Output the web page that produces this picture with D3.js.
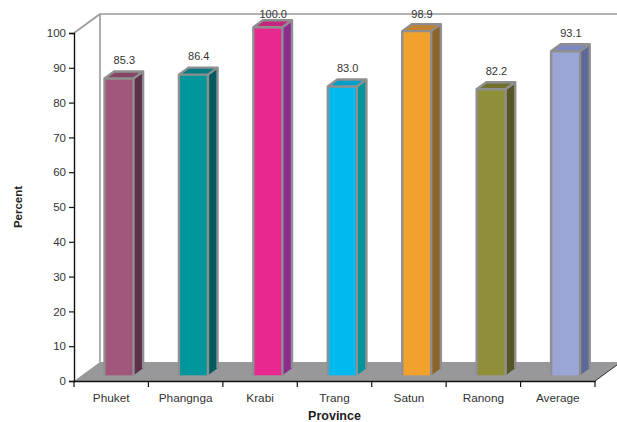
<!DOCTYPE html>
<html>
<head>
<meta charset="utf-8">
<script src="https://cdn.jsdelivr.net/npm/d3@7"></script>
<style>
  html, body { margin: 0; padding: 0; background: #fff; }
  svg { display: block; font-family: Arial, "Liberation Sans", sans-serif; }
</style>
</head>
<body>
<svg id="chart" width="617" height="422"></svg>
<script>
// Provinces and their percentages
const provinces = ["Phuket", "Phangnga", "Krabi", "Trang", "Satun", "Ranong", "Average"];
const percents = [85.3, 86.4, 100.0, 83.0, 98.9, 82.2, 93.1];
const yTicks = [0, 10, 20, 30, 40, 50, 60, 70, 80, 90, 100];

// Face colours for each bar: front, top, side
const frontColors = ["#a3567b", "#00969b", "#e8288e", "#00b9ef", "#f0a22d", "#8f8e39", "#9ba6d6"];
const topColors   = ["#874466", "#007b80", "#c3267f", "#009ec9", "#c0822e", "#72712c", "#7d89c0"];
const sideColors  = ["#5f3049", "#005c60", "#8c2d8d", "#00959b", "#8c652a", "#565727", "#5b6898"];

const svg = d3.select("#chart");

const plotLeft = 74, plotRight = 595, plotBottom = 381, plotTop = 33;
const DX = 26, DY = 19;           // depth of the 3D floor / walls
const f1 = 0.30, f2 = 0.67;       // bar front/back position within the depth
const halfW = 14.5;

const x = d3.scaleBand().domain(provinces).range([plotLeft, plotRight]).padding(0);
const y = d3.scaleLinear().domain([0, 100]).range([plotBottom, plotTop]);

const wallColor = "#9a9a9a";
const pts = a => a.map(p => p.join(",")).join(" ");

// Floor
svg.append("polygon")
  .attr("points", pts([
    [x.range()[0], y(0)], [x.range()[1], y(0)],
    [x.range()[1] + DX, y(0) - DY], [x.range()[0] + DX, y(0) - DY]
  ]))
  .attr("fill", "#98989a");

// Dark edge along the right side of the floor
svg.append("line")
  .attr("x1", x.range()[1]).attr("y1", y(0))
  .attr("x2", x.range()[1] + DX).attr("y2", y(0) - DY)
  .attr("stroke", "#333").attr("stroke-width", 1);

// Walls
const walls = svg.append("g").attr("stroke", wallColor).attr("stroke-width", 1.6).attr("fill", "none");
walls.append("line")
  .attr("x1", plotLeft + DX).attr("y1", y(0) - DY)
  .attr("x2", plotLeft + DX).attr("y2", y(100) - DY);
walls.append("line")
  .attr("x1", plotLeft + DX).attr("y1", y(100) - DY)
  .attr("x2", 640).attr("y2", y(100) - DY);
walls.append("line")
  .attr("x1", plotLeft).attr("y1", y(100))
  .attr("x2", plotLeft + DX).attr("y2", y(100) - DY);

// Bars
const data = provinces.map((p, i) => ({ p, v: percents[i], i }));
const fx = DX * f1, fy = DY * f1;
const ddx = DX * (f2 - f1), ddy = DY * (f2 - f1);

const bars = svg.append("g").selectAll("g").data(data).join("g");
bars.each(function(d) {
  const g = d3.select(this);
  const cx = x(d.p) + x.bandwidth() / 2 + fx;
  const L = cx - halfW, R = cx + halfW;
  const T = y(d.v) - fy, B = y(0) - fy;
  g.append("polygon")
    .attr("points", pts([[R, T], [R + ddx, T - ddy], [R + ddx, B - ddy], [R, B]]))
    .attr("fill", sideColors[d.i]);
  g.append("polygon")
    .attr("points", pts([[L, T], [R, T], [R + ddx, T - ddy], [L + ddx, T - ddy]]))
    .attr("fill", topColors[d.i]);
  g.append("rect")
    .attr("x", L).attr("y", T).attr("width", R - L).attr("height", B - T)
    .attr("fill", frontColors[d.i]);
  // grey outline on the visible edges
  g.append("path")
    .attr("d", `M${L},${B} L${L},${T} L${R},${T} L${R},${B} M${L},${T} L${L + ddx},${T - ddy} L${R + ddx},${T - ddy} L${R},${T} M${R + ddx},${T - ddy} L${R + ddx},${B - ddy}`)
    .attr("fill", "none")
    .attr("stroke", "#8f8f8f").attr("stroke-width", 2.4)
    .attr("stroke-linejoin", "round");
});

// Value labels
svg.append("g").selectAll("text").data(data).join("text")
  .attr("x", d => x(d.p) + x.bandwidth() / 2 + fx + ddx / 2 + 0.5)
  .attr("y", d => Math.max(y(d.v) - 20, 17.5))
  .attr("text-anchor", "middle")
  .attr("font-size", "11px")
  .attr("fill", "#333")
  .text(d => d.v.toFixed(1));

// Y axis
const yAxis = svg.append("g")
  .attr("transform", `translate(${plotLeft},0)`)
  .call(d3.axisLeft(y).tickValues(yTicks).tickSize(5).tickPadding(3).tickFormat(d3.format("d")));
yAxis.select(".domain").attr("stroke", "#111").attr("stroke-width", 1.4);
yAxis.selectAll(".tick line").attr("stroke", "#111").attr("stroke-width", 1.2);
yAxis.selectAll(".tick text").attr("font-size", "11.5px").attr("fill", "#333")
  .attr("font-family", "Arial, 'Liberation Sans', sans-serif");

// X axis: labels under category centres, tick marks on category boundaries
const xAxis = svg.append("g")
  .attr("transform", `translate(0,${plotBottom})`)
  .call(d3.axisBottom(x).tickSize(0).tickPadding(13));
xAxis.select(".domain").attr("stroke", "#111").attr("stroke-width", 1.4);
xAxis.selectAll(".tick text").attr("font-size", "11.8px").attr("fill", "#333")
  .attr("font-family", "Arial, 'Liberation Sans', sans-serif");
const bounds = provinces.map(p => x(p)).concat([x.range()[1]]);
xAxis.selectAll("line.bound").data(bounds).join("line")
  .attr("class", "bound")
  .attr("x1", d => d).attr("x2", d => d)
  .attr("y1", 0).attr("y2", 6)
  .attr("stroke", "#111").attr("stroke-width", 1.2);

// Axis titles
svg.append("text")
  .attr("transform", `translate(22,${(plotTop + plotBottom) / 2}) rotate(-90)`)
  .attr("text-anchor", "middle")
  .attr("font-size", "11.5px").attr("font-weight", "bold").attr("fill", "#222")
  .text("Percent");
svg.append("text")
  .attr("x", (plotLeft + plotRight) / 2).attr("y", 420)
  .attr("text-anchor", "middle")
  .attr("font-size", "12.5px").attr("font-weight", "bold").attr("fill", "#222")
  .text("Province");
</script>
</body>
</html>
